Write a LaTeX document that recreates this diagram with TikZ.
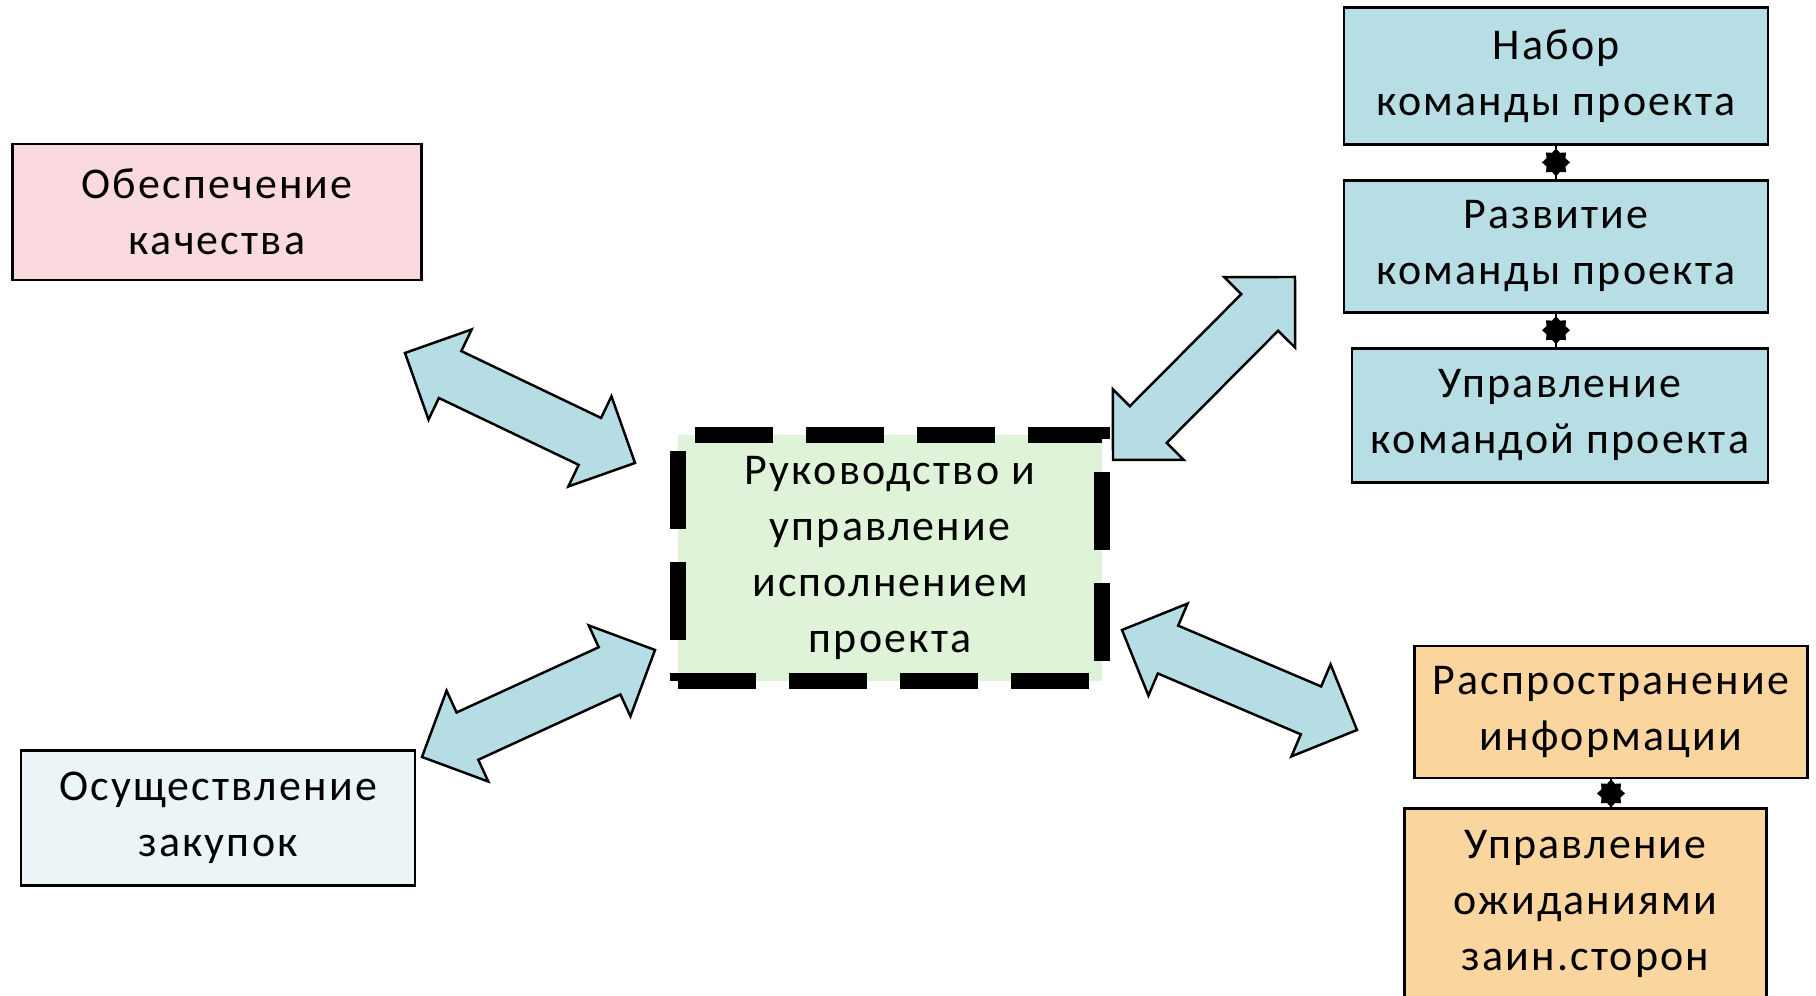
\documentclass[tikz,border=0pt]{standalone}
\usepackage{fontspec}
\setmainfont{Carlito}[LetterSpace=5]
\usepackage{tikz}
\usetikzlibrary{calc,positioning,shapes.geometric}

\definecolor{qapink}{RGB}{250,218,222}
\definecolor{procwhite}{RGB}{235,245,248}
\definecolor{execgreen}{RGB}{222,243,215}
\definecolor{teamblue}{RGB}{183,222,228}
\definecolor{infoorange}{RGB}{250,214,158}
\definecolor{arrowblue}{RGB}{183,221,228}

\newcommand{\boxfont}{\fontsize{12.5}{16}\selectfont}
% double block arrow between two named tips
\newcommand{\blockarrow}[2]{%
	\coordinate (#1-h) at ($(#1)!5mm!(#2)$);
	\coordinate (#2-h) at ($(#2)!5mm!(#1)$);
	\draw[bigarrow] (#1) -- ($(#1-h)!5mm!90:(#2)$) -- ($(#1-h)!2.6mm!90:(#2)$)
		-- ($(#2-h)!2.6mm!-90:(#1)$) -- ($(#2-h)!5mm!-90:(#1)$) -- (#2)
		-- ($(#2-h)!5mm!90:(#1)$) -- ($(#2-h)!2.6mm!90:(#1)$)
		-- ($(#1-h)!2.6mm!-90:(#2)$) -- ($(#1-h)!5mm!-90:(#2)$) -- cycle;
}

\begin{document}
\begin{tikzpicture}[x=0.1mm,y=0.1mm,
		box/.style={draw,line width=0.8pt,align=center,font=\boxfont,inner sep=1pt},
		bigarrow/.style={draw,line width=0.7pt,fill=arrowblue,line join=miter},
		gear/.style={star,star points=8,star point ratio=1.35,fill=black,inner sep=0pt,minimum size=2.8mm},
		tie/.style={line width=0.8pt}]
	\useasboundingbox (0,0) rectangle (1816,996);

	\node(main) [box,fill=execgreen,line width=4.8pt,dash pattern=on 7.8mm off 3.3mm,
		minimum width=4.24cm,minimum height=2.46cm] at (890,438)
		{Руководство и\\управление\\исполнением\\проекта};

	\node(quality) [box,fill=qapink,minimum width=4.09cm,minimum height=1.36cm] at (217,784)
		{Обеспечение\\качества};
	\node(procure) [box,fill=procwhite,minimum width=3.94cm,minimum height=1.35cm] at (218,178)
		{Осуществление\\закупок};

	\node(set) [box,fill=teamblue,minimum width=4.24cm,minimum height=1.37cm] at (1556,920)
		{Набор\\команды проекта};
	\node(grow) [box,fill=teamblue,minimum width=4.24cm,minimum height=1.32cm,
		below left=3.3mm and 0mm of set.south east] {Развитие\\команды проекта};
	\node(lead) [box,fill=teamblue,minimum width=4.16cm,minimum height=1.34cm,
		below left=3.3mm and 0mm of grow.south east] {Управление\\командой проекта};

	\node(info) [box,fill=infoorange,minimum width=3.93cm,minimum height=1.32cm] at (1611,284)
		{Распространение\\информации};
	\node(expect) [box,fill=infoorange,minimum width=3.62cm,minimum height=1.90cm,
		below=2.8mm of info,xshift=-2.55mm] {Управление\\ожиданиями\\заин.сторон};

	\draw[tie] (set.south) -- node[gear] {} (set.south |- grow.north);
	\draw[tie] (grow.south) -- node[gear] {} (grow.south |- lead.north);
	\draw[tie] (info.south) -- node[gear] {} (info.south |- expect.north);

	\coordinate (qa1) at (405,643);
	\coordinate (qa2) at (635,533);
	\coordinate (tm1) at (1113,536);
	\coordinate (tm2) at (1295,719);
	\coordinate (pr1) at (422,239);
	\coordinate (pr2) at (655,346);
	\coordinate (cm1) at (1122,366);
	\coordinate (cm2) at (1357,266);
	\blockarrow{qa1}{qa2}
	\blockarrow{tm1}{tm2}
	\blockarrow{pr1}{pr2}
	\blockarrow{cm1}{cm2}
\end{tikzpicture}
\end{document}
